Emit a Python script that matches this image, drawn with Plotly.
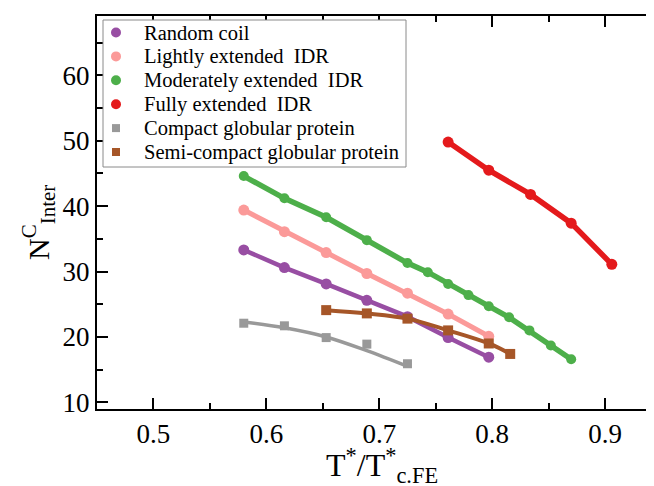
import plotly.graph_objects as go

# ---- data ----
rc_x = [0.580, 0.616, 0.653, 0.689, 0.725, 0.761, 0.797]
rc_y = [33.3, 30.6, 28.1, 25.6, 23.1, 19.9, 16.9]

le_x = [0.580, 0.616, 0.653, 0.689, 0.725, 0.761, 0.797]
le_y = [39.4, 36.1, 32.9, 29.7, 26.7, 23.5, 20.1]

me_x = [0.580, 0.616, 0.653, 0.689, 0.725, 0.743, 0.761, 0.779, 0.797, 0.815, 0.833, 0.852, 0.870]
me_y = [44.6, 41.2, 38.3, 34.8, 31.3, 29.9, 28.1, 26.4, 24.7, 23.0, 21.0, 18.7, 16.6]

fe_x = [0.761, 0.797, 0.834, 0.870, 0.906]
fe_y = [49.8, 45.5, 41.8, 37.4, 31.1]

cg_x = [0.580, 0.616, 0.653, 0.689, 0.725]
cg_y = [22.1, 21.7, 19.9, 18.9, 15.9]
cg_fit_x = [0.580, 0.616, 0.653, 0.689, 0.725]
cg_fit_y = [22.3, 21.4, 20.0, 17.9, 15.5]

sc_x = [0.653, 0.689, 0.725, 0.761, 0.797, 0.816]
sc_y = [24.1, 23.6, 22.8, 21.0, 19.0, 17.4]

series_names = ["Random coil", "Lightly extended  IDR", "Moderately extended  IDR",
                "Fully extended  IDR", "Compact globular protein",
                "Semi-compact globular protein"]

x_ticks = [0.5, 0.6, 0.7, 0.8, 0.9]
y_ticks = [10, 20, 30, 40, 50, 60]

x_title = "T<sup>*</sup>/T<sup>*</sup><sub>c.FE</sub>"
y_title = "N<sup>C</sup><sub>Inter</sub>"

SERIF = "Liberation Serif"

C_PURPLE = "#984ea3"
C_PINK = "#fb9a99"
C_GREEN = "#4daf4a"
C_RED = "#e41a1c"
C_GRAY = "#999999"
C_BROWN = "#a65628"
series_colors = [C_PURPLE, C_PINK, C_GREEN, C_RED, C_GRAY, C_BROWN]
series_symbols = ["circle", "circle", "circle", "circle", "square", "square"]

# figure geometry (page body has an 8px margin)
W, H = 646, 478
ML, MR, MT, MB = 89, 0, 8, 77
PW = W - ML - MR
PH = H - MT - MB

fig = go.Figure()

def add_series(name, x, y, color, lw, msize, symbol, shape="linear", lx=None, ly=None):
    fig.add_trace(go.Scatter(
        x=lx if lx is not None else x, y=ly if ly is not None else y,
        mode="lines", line=dict(color=color, width=lw, shape=shape),
        showlegend=False, hoverinfo="skip"))
    fig.add_trace(go.Scatter(
        x=x, y=y, mode="markers", name=name, showlegend=False,
        marker=dict(color=color, size=msize, symbol=symbol)))

add_series(series_names[0], rc_x, rc_y, C_PURPLE, 4.5, 11, "circle")
add_series(series_names[1], le_x, le_y, C_PINK, 5, 11, "circle")
add_series(series_names[2], me_x, me_y, C_GREEN, 5.5, 10, "circle")
add_series(series_names[3], fe_x, fe_y, C_RED, 5.5, 11, "circle")
add_series(series_names[4], cg_x, cg_y, C_GRAY, 3.5, 9, "square",
           shape="spline", lx=cg_fit_x, ly=cg_fit_y)
add_series(series_names[5], sc_x, sc_y, C_BROWN, 4, 10, "square", shape="spline")

axis_common = dict(
    showgrid=False, zeroline=False,
    showline=True, linecolor="black", linewidth=2,
    ticks="inside", ticklen=11, tickwidth=2, tickcolor="black",
    tickfont=dict(family=SERIF, size=27, color="black"),
)

fig.update_xaxes(
    range=[0.45, 0.45 + PW / 1129.0], tickvals=x_ticks, ticktext=[str(v) for v in x_ticks],
    mirror="ticks",
    minor=dict(dtick=0.05, tick0=0.0, ticks="inside", ticklen=6, tickwidth=2, tickcolor="black"),
    **axis_common)

fig.update_yaxes(
    range=[8.98, 69.08], tickvals=y_ticks, ticktext=[str(v) for v in y_ticks],
    mirror=False,
    minor=dict(dtick=5, tick0=0, ticks="inside", ticklen=6, tickwidth=2, tickcolor="black"),
    **axis_common)

# ---- page-pixel positions converted to paper coords ----
def px2paper_x(px):
    return (px - 8 - ML) / PW

def py2paper_y(py):
    return (8 + MT + PH - py) / PH

shapes = [dict(type="rect", xref="paper", yref="paper",
               x0=px2paper_x(103), x1=px2paper_x(406),
               y0=py2paper_y(167), y1=py2paper_y(20),
               line=dict(color="#8a8a8a", width=1), fillcolor="white", layer="above")]
annotations = []
for i, (nm, col, sym) in enumerate(zip(series_names, series_colors, series_symbols)):
    cy = 32.5 + 23.9 * i
    half = 5 if sym == "circle" else 4
    shapes.append(dict(
        type="circle" if sym == "circle" else "rect",
        xref="paper", yref="paper", xsizemode="pixel", ysizemode="pixel",
        xanchor=px2paper_x(116), yanchor=py2paper_y(cy),
        x0=-half, x1=half, y0=-half, y1=half,
        fillcolor=col, line=dict(width=0), layer="above"))
    annotations.append(dict(
        xref="paper", yref="paper", x=px2paper_x(141.5), y=py2paper_y(cy + 0.5),
        xanchor="left", yanchor="middle", showarrow=False, text=nm,
        font=dict(family=SERIF, size=20.5, color="black")))

# axis titles
annotations.append(dict(
    xref="paper", yref="paper", x=px2paper_x(382), y=py2paper_y(465),
    xanchor="center", yanchor="middle", showarrow=False, text=x_title,
    font=dict(family=SERIF, size=32, color="black")))
annotations.append(dict(
    xref="paper", yref="paper", x=px2paper_x(38), y=py2paper_y(223),
    xanchor="center", yanchor="middle", showarrow=False, text=y_title, textangle=-90,
    font=dict(family=SERIF, size=30, color="black")))

fig.update_layout(
    width=W, height=H,
    margin=dict(l=ML, r=MR, t=MT, b=MB, autoexpand=False),
    paper_bgcolor="white", plot_bgcolor="white",
    showlegend=False,
    shapes=shapes, annotations=annotations,
)

fig.write_html("out.html")
